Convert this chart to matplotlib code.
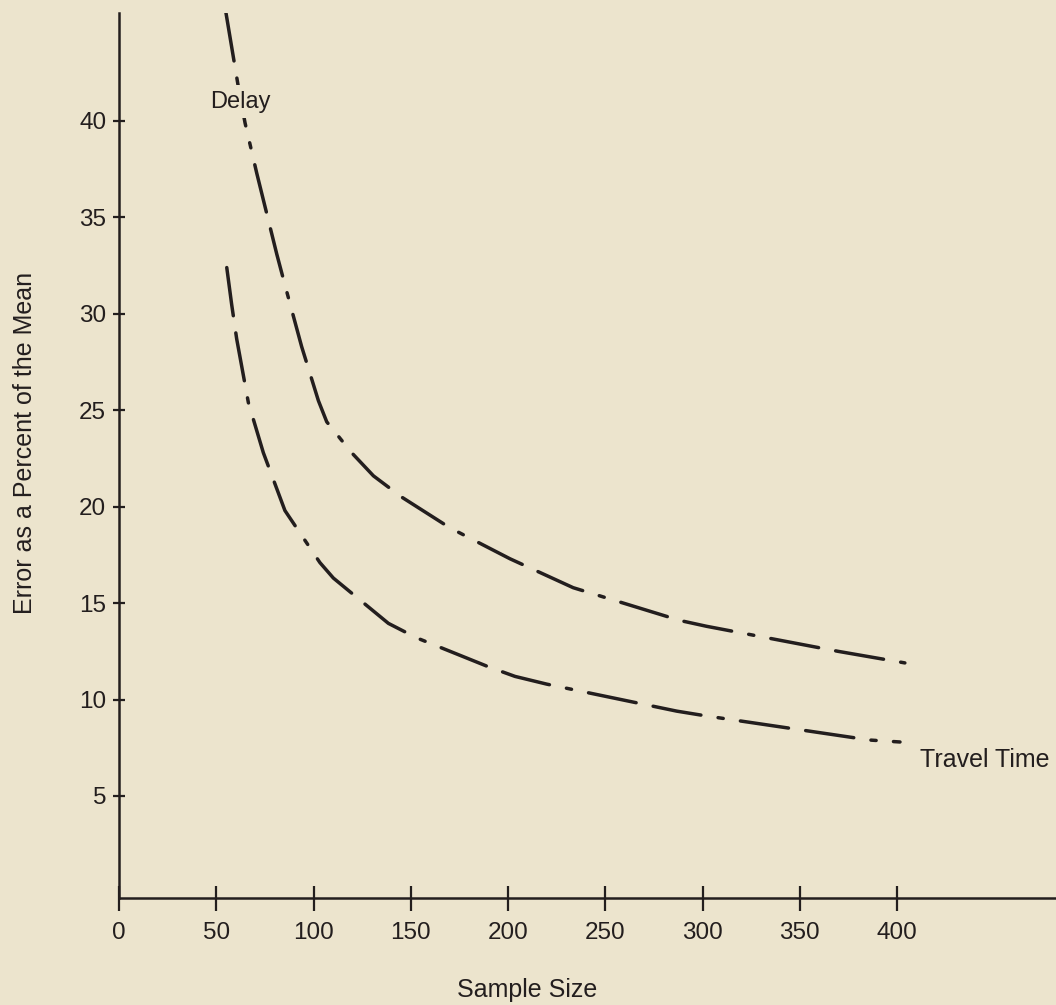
import numpy as np
import matplotlib
matplotlib.use('Agg')
import matplotlib.pyplot as plt

plt.rcParams['font.family'] = ['Liberation Sans', 'DejaVu Sans']

# Delay curve
delay_x = [55, 61.3, 64.8, 70.8, 81.1, 85.3, 93.9, 102.5, 106.8, 119.6, 130.8,
           145.3, 170.2, 201, 233.5, 288.4, 302, 369.7, 404]
delay_y = [45.6, 41.8, 39.9, 37.3, 33.1, 31.5, 28.3, 25.5, 24.4, 22.8, 21.6,
           20.5, 18.9, 17.3, 15.8, 14.1, 13.8, 12.5, 11.9]

# Travel time curve
travel_x = [55.4, 57.9, 60.5, 66.5, 74.2, 85.3, 103.3, 110.2, 138.5, 153,
            189.9, 203.6, 219.9, 286.7, 301.3, 386, 401.5]
travel_y = [32.4, 30.5, 28.7, 25.4, 22.8, 19.8, 17.1, 16.3, 13.95, 13.2,
            11.7, 11.2, 10.8, 9.4, 9.16, 7.9, 7.8]

xticks = [0, 50, 100, 150, 200, 250, 300, 350, 400]
yticks = [5, 10, 15, 20, 25, 30, 35, 40]

bg = '#ece4cd'
ink = '#231e1e'

fig = plt.figure(figsize=(10.56, 10.05), dpi=100, facecolor=bg)
ax = fig.add_axes([119/1056, 1 - 898/1005, 1 - 119/1056, (898 - 13)/1005])
ax.set_facecolor(bg)

dash = (0, (14, 5, 14, 5, 1.5, 5))
ax.plot(delay_x, delay_y, color=ink, lw=2.5, linestyle=dash, dash_capstyle='round')
ax.plot(travel_x, travel_y, color=ink, lw=2.5, linestyle=dash, dash_capstyle='round')

ax.set_xlim(0, 481.7)
ax.set_ylim(-0.29, 45.6)

for s in ['top', 'right']:
    ax.spines[s].set_visible(False)
for s in ['left', 'bottom']:
    ax.spines[s].set_linewidth(1.8)
    ax.spines[s].set_color(ink)

ax.set_xticks(xticks)
ax.set_yticks(yticks)
ax.tick_params(axis='x', direction='inout', length=18, width=1.6, color=ink,
               labelsize=17.5, labelcolor=ink, pad=8)
ax.tick_params(axis='y', direction='inout', length=8.5, width=1.6, color=ink,
               labelsize=17.5, labelcolor=ink, pad=5)

# the curve is broken where the label sits
ax.text(46.8, 41.0, 'Delay', fontsize=17, color=ink, ha='left', va='center',
        zorder=5, bbox=dict(facecolor=bg, edgecolor='none', pad=4))
ax.text(411.8, 6.86, 'Travel Time', fontsize=18, color=ink, ha='left', va='center')

fig.text(25/1056, 1 - 443/1005, 'Error as a Percent of the Mean', rotation=90,
         fontsize=18, color=ink, ha='center', va='center')
fig.text(527/1056, 1 - 990/1005, 'Sample Size', fontsize=18, color=ink,
         ha='center', va='center')

fig.savefig('out.png', dpi=100, facecolor=bg)
